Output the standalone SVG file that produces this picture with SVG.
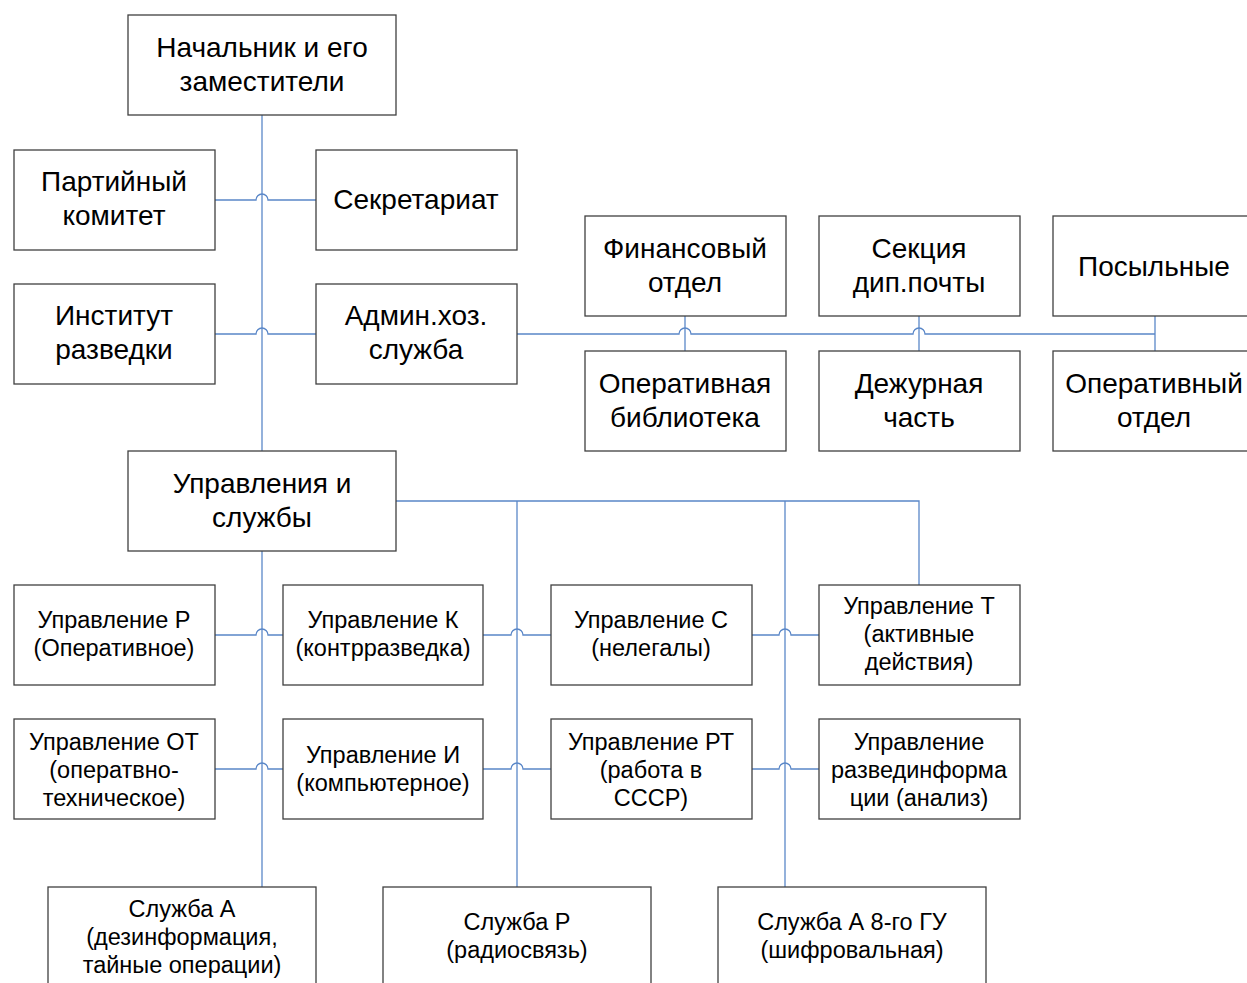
<svg xmlns="http://www.w3.org/2000/svg" width="1247" height="983" viewBox="0 0 1247 983">
<style>
  .box { fill: #ffffff; stroke: #404040; stroke-width: 1.3; }
  .ln { fill: none; stroke: #5a87c8; stroke-width: 1.3; }
  .t1 { font-family: "Liberation Sans", Arial, sans-serif; font-size: 28px; fill: #000; text-anchor: middle; }
  .t2 { font-family: "Liberation Sans", Arial, sans-serif; font-size: 23.5px; fill: #000; text-anchor: middle; }
</style>
<rect width="1247" height="983" fill="#ffffff"/>

<!-- connectors -->
<g id="connectors">
  <!-- main spine -->
  <path class="ln" d="M262,115 V451"/>
  <path class="ln" d="M262,551 V887"/>
  <!-- side branches with line hops over the spine -->
  <path class="ln" d="M215,200 H256 A6,6 0 0 1 268,200 H316"/>
  <path class="ln" d="M215,334 H256 A6,6 0 0 1 268,334 H316"/>
  <!-- support units bus -->
  <path class="ln" d="M517,334 H679 A6,6 0 0 1 691,334 H913 A6,6 0 0 1 925,334 H1155"/>
  <path class="ln" d="M685,316 V351"/>
  <path class="ln" d="M919,316 V351"/>
  <path class="ln" d="M1155,316 V351"/>
  <!-- directorates bus -->
  <path class="ln" d="M396,501 H919 V585"/>
  <path class="ln" d="M517,501 V887"/>
  <path class="ln" d="M785,501 V887"/>
  <!-- directorate rows -->
  <path class="ln" d="M215,635 H256 A6,6 0 0 1 268,635 H283"/>
  <path class="ln" d="M483,635 H511 A6,6 0 0 1 523,635 H551"/>
  <path class="ln" d="M752,635 H779 A6,6 0 0 1 791,635 H819"/>
  <path class="ln" d="M215,769 H256 A6,6 0 0 1 268,769 H283"/>
  <path class="ln" d="M483,769 H511 A6,6 0 0 1 523,769 H551"/>
  <path class="ln" d="M752,769 H779 A6,6 0 0 1 791,769 H819"/>
</g>

<g id="n-chief"><rect class="box" x="128" y="15" width="268" height="100"/>
  <text class="t1" x="262" y="57">Начальник и его</text><text class="t1" x="262" y="91">заместители</text></g>

<g id="n-party"><rect class="box" x="14" y="150" width="201" height="100"/>
  <text class="t1" x="114" y="191">Партийный</text><text class="t1" x="114" y="225">комитет</text></g>
<g id="n-secretariat"><rect class="box" x="316" y="150" width="201" height="100"/>
  <text class="t1" x="416" y="209">Секретариат</text></g>

<g id="n-institute"><rect class="box" x="14" y="284" width="201" height="100"/>
  <text class="t1" x="114" y="325">Институт</text><text class="t1" x="114" y="359">разведки</text></g>
<g id="n-admin"><rect class="box" x="316" y="284" width="201" height="100"/>
  <text class="t1" x="416" y="325">Админ.хоз.</text><text class="t1" x="416" y="359">служба</text></g>

<g id="n-finance"><rect class="box" x="585" y="216" width="201" height="100"/>
  <text class="t1" x="685" y="258">Финансовый</text><text class="t1" x="685" y="292">отдел</text></g>
<g id="n-diplomail"><rect class="box" x="819" y="216" width="201" height="100"/>
  <text class="t1" x="919" y="258">Секция</text><text class="t1" x="919" y="292">дип.почты</text></g>
<g id="n-couriers"><rect class="box" x="1053" y="216" width="201" height="100"/>
  <text class="t1" x="1154" y="276">Посыльные</text></g>

<g id="n-library"><rect class="box" x="585" y="351" width="201" height="100"/>
  <text class="t1" x="685" y="393">Оперативная</text><text class="t1" x="685" y="427">библиотека</text></g>
<g id="n-duty"><rect class="box" x="819" y="351" width="201" height="100"/>
  <text class="t1" x="919" y="393">Дежурная</text><text class="t1" x="919" y="427">часть</text></g>
<g id="n-opdept"><rect class="box" x="1053" y="351" width="201" height="100"/>
  <text class="t1" x="1154" y="393">Оперативный</text><text class="t1" x="1154" y="427">отдел</text></g>

<g id="n-directorates"><rect class="box" x="128" y="451" width="268" height="100"/>
  <text class="t1" x="262" y="493">Управления и</text><text class="t1" x="262" y="527">службы</text></g>

<g id="n-dir-r"><rect class="box" x="14" y="585" width="201" height="100"/>
  <text class="t2" x="114" y="628">Управление Р</text><text class="t2" x="114" y="656">(Оперативное)</text></g>
<g id="n-dir-k"><rect class="box" x="283" y="585" width="200" height="100"/>
  <text class="t2" x="383" y="628">Управление К</text><text class="t2" x="383" y="656">(контрразведка)</text></g>
<g id="n-dir-s"><rect class="box" x="551" y="585" width="201" height="100"/>
  <text class="t2" x="651" y="628">Управление С</text><text class="t2" x="651" y="656">(нелегалы)</text></g>
<g id="n-dir-t"><rect class="box" x="819" y="585" width="201" height="100"/>
  <text class="t2" x="919" y="614">Управление Т</text><text class="t2" x="919" y="642">(активные</text><text class="t2" x="919" y="670">действия)</text></g>

<g id="n-dir-ot"><rect class="box" x="14" y="719" width="201" height="100"/>
  <text class="t2" x="114" y="750">Управление ОТ</text><text class="t2" x="114" y="778">(оператвно-</text><text class="t2" x="114" y="806">техническое)</text></g>
<g id="n-dir-i"><rect class="box" x="283" y="719" width="200" height="100"/>
  <text class="t2" x="383" y="763">Управление И</text><text class="t2" x="383" y="791">(компьютерное)</text></g>
<g id="n-dir-rt"><rect class="box" x="551" y="719" width="201" height="100"/>
  <text class="t2" x="651" y="750">Управление РТ</text><text class="t2" x="651" y="778">(работа в</text><text class="t2" x="651" y="806">СССР)</text></g>
<g id="n-dir-analysis"><rect class="box" x="819" y="719" width="201" height="100"/>
  <text class="t2" x="919" y="750">Управление</text><text class="t2" x="919" y="778">развединформа</text><text class="t2" x="919" y="806">ции (анализ)</text></g>

<g id="n-svc-a"><rect class="box" x="48" y="887" width="268" height="100"/>
  <text class="t2" x="182" y="917">Служба А</text><text class="t2" x="182" y="945">(дезинформация,</text><text class="t2" x="182" y="973">тайные операции)</text></g>
<g id="n-svc-r"><rect class="box" x="383" y="887" width="268" height="100"/>
  <text class="t2" x="517" y="930">Служба Р</text><text class="t2" x="517" y="958">(радиосвязь)</text></g>
<g id="n-svc-a8"><rect class="box" x="718" y="887" width="268" height="100"/>
  <text class="t2" x="852" y="930">Служба А 8-го ГУ</text><text class="t2" x="852" y="958">(шифровальная)</text></g>
</svg>
